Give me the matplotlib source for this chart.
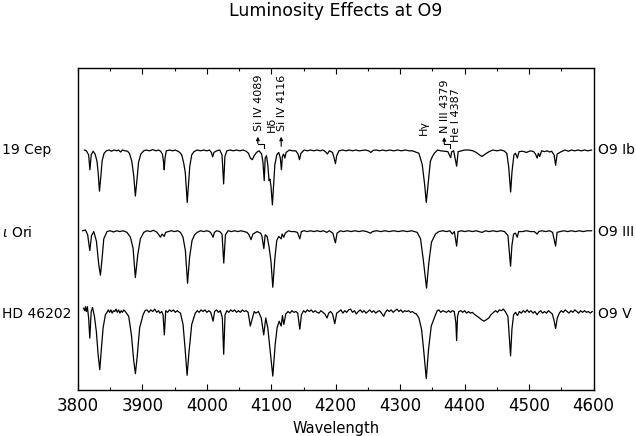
import matplotlib
matplotlib.use("Agg")
import matplotlib.pyplot as plt
from matplotlib.ticker import MultipleLocator

# spectra: (wavelength, normalised flux) vertices
cep19 = [
    (3810, 1.00), (3813, 0.99), (3816.5, 0.94), (3818.5, 0.755), (3820.5, 0.94), (3823.5, 0.985),
    (3826.5, 0.95), (3829.5, 0.86), (3831.5, 0.70), (3833.3, 0.49), (3835.3, 0.66), (3837.5, 0.87),
    (3840.5, 0.96), (3844, 0.99), (3848, 1.00), (3852, 0.985), (3856, 1.00), (3860, 0.99), (3863, 1.00),
    (3866, 0.975), (3869, 1.00), (3873, 0.99), (3877, 0.985), (3880, 0.955), (3883.5, 0.86),
    (3886.5, 0.68), (3889, 0.43), (3891.5, 0.63), (3894, 0.85), (3897.5, 0.95), (3902, 0.99),
    (3906, 1.00), (3911, 0.99), (3916, 1.005), (3921, 0.99), (3925, 1.00), (3928, 0.985), (3931, 0.95),
    (3932.8, 0.85), (3933.8, 0.755), (3935, 0.90), (3937, 0.99), (3942, 1.00), (3947, 0.99),
    (3951, 1.00), (3955, 0.985), (3958, 0.97), (3961, 0.94), (3964, 0.84), (3966.5, 0.72),
    (3968.3, 0.50), (3969.5, 0.35), (3971, 0.52), (3973.5, 0.80), (3976.5, 0.94), (3980, 0.98),
    (3985, 1.00), (3990, 0.99), (3995, 1.00), (4000, 0.99), (4004, 1.00), (4007, 0.97), (4009, 0.915),
    (4011, 0.97), (4015, 0.99), (4020, 1.00), (4023.5, 0.94), (4026, 0.58), (4028, 0.92), (4031, 0.99),
    (4036, 1.00), (4041, 0.99), (4046, 1.00), (4051, 0.99), (4056, 1.00), (4061, 0.985), (4064.5, 0.96),
    (4067.5, 0.90), (4070.5, 0.88), (4073.5, 0.93), (4077, 0.97), (4081, 0.99), (4085, 0.95),
    (4087, 0.85), (4089, 0.62), (4090.5, 0.90), (4092.5, 0.93), (4094.5, 0.82), (4096.5, 0.62),
    (4098, 0.64), (4099.5, 0.55), (4101.7, 0.32), (4103.5, 0.55), (4105.5, 0.82), (4108.5, 0.94),
    (4111.5, 0.97), (4114, 0.90), (4115.7, 0.755), (4117.2, 0.92), (4119, 0.95), (4121, 0.90),
    (4123, 0.97), (4128, 1.00), (4133, 0.99), (4138, 0.99), (4141.5, 0.95), (4143.7, 0.88),
    (4146, 0.96), (4151, 1.00), (4156, 0.99), (4161, 1.00), (4166, 0.99), (4171, 1.00), (4176, 0.99),
    (4180, 1.00), (4184, 0.98), (4187, 0.95), (4190, 0.99), (4195, 0.97), (4197.5, 0.90),
    (4199.5, 0.83), (4201.5, 0.93), (4205, 0.99), (4211, 1.00), (4216, 0.99), (4221, 1.00),
    (4226, 0.99), (4231, 1.00), (4236, 0.99), (4241, 0.995), (4246, 1.00), (4251, 0.99),
    (4254.5, 0.97), (4258, 0.995), (4263, 1.00), (4268, 0.99), (4273, 1.00), (4278, 0.99),
    (4284, 1.00), (4290, 0.99), (4296, 1.00), (4302, 0.99), (4308, 1.00), (4314, 0.99), (4319, 0.99),
    (4324, 0.975), (4329, 0.96), (4334.2, 0.82), (4338, 0.57), (4340.5, 0.35), (4343.2, 0.57),
    (4346.8, 0.86), (4350, 0.92), (4353, 0.96), (4358, 1.00), (4363, 0.99), (4368, 0.985),
    (4374, 0.98), (4378.3, 0.906), (4380, 0.98), (4383, 0.99), (4387.6, 0.80), (4390, 0.98),
    (4395, 0.99), (4400, 1.00), (4407, 1.00), (4413, 0.99), (4418, 0.97), (4423, 0.94), (4427, 0.92),
    (4432, 0.95), (4438, 0.98), (4444, 1.00), (4450, 0.99), (4456, 1.00), (4461, 0.99),
    (4465.5, 0.96), (4468.5, 0.78), (4471.4, 0.48), (4473.5, 0.73), (4476.5, 0.94), (4479, 0.96),
    (4481.8, 0.90), (4484.5, 0.98), (4490, 0.985), (4496, 0.97), (4502, 0.99), (4507, 0.98),
    (4510, 0.95), (4512.6, 0.90), (4514.5, 0.96), (4516.6, 0.92), (4519.5, 0.99), (4524, 0.98),
    (4528, 0.99), (4532, 0.975), (4535, 0.985), (4538.8, 0.94), (4541.2, 0.81), (4543.6, 0.95),
    (4550, 0.98), (4556, 1.00), (4561, 0.985), (4566, 1.00), (4571, 0.99), (4576, 1.00), (4581, 0.99),
    (4586, 1.00), (4591, 0.99), (4597, 1.00),
]

iota_ori = [
    (3807, 1.00), (3811.5, 1.01), (3815, 0.95), (3818.3, 0.755), (3821, 0.94), (3824.5, 0.99),
    (3828.6, 0.87), (3832.2, 0.58), (3834.8, 0.45), (3837.4, 0.66), (3840, 0.90), (3845, 0.99),
    (3850, 1.00), (3855, 0.985), (3860, 1.00), (3865, 0.99), (3870, 1.00), (3876, 0.98),
    (3881.4, 0.92), (3885.5, 0.78), (3889, 0.42), (3892.7, 0.70), (3896.8, 0.90), (3902, 0.98),
    (3907, 1.00), (3912, 0.99), (3917, 1.005), (3922, 0.985), (3925.5, 0.95), (3928, 0.92),
    (3930.5, 0.96), (3933.8, 0.93), (3936, 0.98), (3940, 0.99), (3945, 1.00), (3950, 0.99),
    (3955, 1.00), (3959, 0.98), (3963, 0.92), (3966.7, 0.75), (3970, 0.35), (3973.3, 0.68),
    (3977, 0.88), (3981, 0.95), (3985, 0.98), (3990, 1.00), (3995, 0.99), (4000, 1.00), (4004, 0.99),
    (4006.5, 0.97), (4009.6, 0.92), (4011.7, 0.98), (4015, 1.00), (4020, 0.99), (4023.5, 0.96),
    (4026.2, 0.60), (4028.8, 0.95), (4033, 1.00), (4038, 0.99), (4043, 1.00), (4048, 0.99),
    (4053, 1.00), (4058, 0.99), (4062.4, 0.98), (4065.4, 0.95), (4068.5, 0.89), (4071.5, 0.96),
    (4078, 0.99), (4083.5, 0.97), (4085.5, 0.93), (4088.4, 0.78), (4090.5, 0.95), (4093.5, 0.93),
    (4096.5, 0.80), (4099.5, 0.62), (4102.3, 0.30), (4105.5, 0.66), (4108.5, 0.88), (4111.5, 0.93),
    (4115.3, 0.90), (4116.8, 0.96), (4119.4, 0.92), (4121.6, 0.97), (4126.5, 1.00), (4131, 0.99),
    (4136, 0.99), (4140.5, 0.98), (4144.2, 0.90), (4146.7, 0.99), (4151, 1.00), (4156, 0.99),
    (4161, 1.00), (4166, 0.99), (4171, 1.00), (4176, 0.99), (4181, 1.00), (4186, 0.98), (4190, 1.00),
    (4195.5, 0.97), (4199.5, 0.85), (4202, 0.97), (4207, 1.00), (4212, 0.99), (4218, 1.00),
    (4224, 0.99), (4230, 1.00), (4236, 0.99), (4242, 1.00), (4248, 0.99), (4254, 0.97), (4257, 0.99),
    (4263, 1.00), (4270, 0.99), (4276, 1.00), (4283, 0.99), (4290, 1.00), (4297, 0.99), (4304, 1.00),
    (4311, 0.99), (4318, 1.00), (4326.4, 0.98), (4331.6, 0.90), (4335.7, 0.65), (4340.9, 0.29),
    (4344.5, 0.61), (4348.6, 0.86), (4354.8, 0.96), (4360, 0.99), (4366, 1.00), (4372, 0.99),
    (4377, 1.00), (4380.8, 0.96), (4384, 0.99), (4387.6, 0.81), (4389.8, 0.99), (4395, 1.00),
    (4400, 0.99), (4406, 1.00), (4412, 0.99), (4418, 1.00), (4422, 0.99), (4427.3, 0.98),
    (4432, 1.00), (4438, 0.99), (4444, 1.00), (4450, 0.99), (4456, 1.00), (4462, 0.99),
    (4467.2, 0.94), (4471.3, 0.56), (4473.4, 0.82), (4476, 0.96), (4479, 0.97), (4481.6, 0.92),
    (4484, 0.99), (4490, 0.99), (4496, 1.00), (4502, 0.99), (4508, 0.99), (4512.6, 0.96),
    (4515, 0.99), (4520, 1.00), (4526, 0.99), (4532, 1.00), (4536.5, 0.98), (4541.2, 0.81),
    (4543.5, 0.98), (4548, 0.99), (4554, 1.00), (4560, 0.99), (4566, 1.00), (4572, 0.99),
    (4578, 1.00), (4584, 0.99), (4590, 1.00), (4597, 1.00),
]

hd46202 = [
    (3808.5, 1.04), (3810.5, 1.01), (3811.5, 1.06), (3813, 1.00), (3814.5, 1.06), (3816.5, 0.92),
    (3818.3, 0.67), (3820.5, 1.00), (3822.5, 1.05), (3825.5, 0.94), (3828.5, 0.75), (3831.2, 0.47),
    (3833.8, 0.28), (3836.4, 0.55), (3839, 0.80), (3842.5, 0.96), (3845, 0.99), (3847, 1.02),
    (3849, 0.99), (3851, 1.02), (3853, 0.98), (3855, 1.01), (3857, 1.00), (3859, 1.03), (3861, 0.99),
    (3863, 1.02), (3865, 0.98), (3867, 1.01), (3869, 0.99), (3871, 1.02), (3873.5, 1.00), (3876, 0.97),
    (3878.7, 0.94), (3882.9, 0.71), (3886.5, 0.39), (3889.1, 0.23), (3891.7, 0.43), (3895.7, 0.80),
    (3901, 0.96), (3904, 1.01), (3907.2, 1.02), (3910, 0.99), (3913, 1.02), (3916, 1.00), (3919, 1.03),
    (3922, 0.99), (3925, 1.01), (3927, 0.98), (3930, 1.00), (3932, 0.96), (3934, 0.71), (3936.1, 1.01),
    (3939, 0.99), (3942, 1.02), (3945, 1.00), (3948, 1.02), (3951, 0.99), (3954, 1.01), (3957, 0.99),
    (3959, 0.98), (3963, 0.84), (3966.1, 0.55), (3969.3, 0.21), (3972.4, 0.51), (3976.5, 0.84),
    (3982, 0.98), (3985, 1.01), (3988, 0.99), (3991, 1.02), (3994, 1.00), (3997, 1.02), (4000, 0.99),
    (4003, 1.01), (4006, 0.99), (4009.6, 0.88), (4012, 1.00), (4015, 1.02), (4018, 0.99), (4021, 1.01),
    (4024, 0.92), (4026.1, 0.47), (4028.2, 0.96), (4031, 1.01), (4034, 0.99), (4037, 1.02),
    (4040, 1.00), (4043, 1.02), (4046, 0.99), (4049, 1.01), (4052, 0.99), (4055, 1.02), (4058, 1.00),
    (4061, 1.01), (4064, 0.99), (4067.4, 0.82), (4070, 0.90), (4073.5, 1.00), (4076, 0.98),
    (4080, 1.00), (4084.4, 0.92), (4088.2, 0.71), (4091.4, 0.92), (4094.5, 0.80), (4097.7, 0.55),
    (4102.3, 0.20), (4106, 0.59), (4109, 0.80), (4112.2, 0.88), (4115.3, 0.82), (4117.3, 0.95),
    (4119.4, 0.84), (4122.5, 0.97), (4126, 1.00), (4129, 0.98), (4132, 1.01), (4135, 0.99),
    (4138, 1.00), (4141, 0.98), (4144.2, 0.78), (4146.8, 0.96), (4150, 1.01), (4153, 0.99),
    (4156, 1.02), (4159, 1.00), (4162, 1.02), (4165, 0.99), (4168, 1.01), (4171, 0.99), (4174, 0.98),
    (4177, 1.01), (4180, 0.99), (4183, 0.97), (4186.5, 0.92), (4189, 0.98), (4192, 1.00),
    (4195, 0.97), (4198.5, 0.85), (4201.5, 0.98), (4205, 1.00), (4208, 1.02), (4211, 0.98),
    (4214, 1.01), (4217, 0.99), (4220, 1.02), (4223, 1.03), (4226, 0.99), (4229, 1.01), (4232, 0.97),
    (4235, 1.00), (4238, 1.02), (4241, 0.99), (4244, 1.01), (4247, 0.98), (4250, 1.00), (4253, 1.02),
    (4256, 0.99), (4259, 1.01), (4262, 0.98), (4265, 1.00), (4268, 1.01), (4271, 0.98),
    (4274.5, 0.94), (4277, 0.99), (4280, 1.02), (4283, 1.00), (4286, 1.02), (4289, 0.99),
    (4292, 1.01), (4295, 1.03), (4298, 1.00), (4301, 1.02), (4304, 0.99), (4307, 1.01), (4310, 1.00),
    (4313, 1.01), (4316, 0.99), (4319, 1.00), (4322, 0.98), (4325, 0.97), (4329, 0.92),
    (4333.2, 0.78), (4336.8, 0.49), (4340.5, 0.17), (4344, 0.53), (4348.2, 0.82), (4354.8, 0.96),
    (4357.5, 1.01), (4360, 1.02), (4363, 0.99), (4366, 1.01), (4369, 1.00), (4372, 0.99),
    (4375, 1.01), (4378, 0.99), (4381, 1.01), (4384, 1.00), (4386.4, 0.86), (4387.6, 0.64),
    (4389, 0.94), (4391, 1.00), (4394, 1.01), (4397, 0.99), (4400, 1.01), (4403, 0.98), (4406, 1.00),
    (4409, 0.98), (4412, 0.99), (4416, 0.96), (4419.5, 0.94), (4423, 0.92), (4426, 0.90),
    (4430, 0.88), (4434, 0.90), (4437.5, 0.92), (4441, 0.96), (4445, 0.99), (4448, 1.01),
    (4451, 0.99), (4454, 1.02), (4457, 1.01), (4460, 1.03), (4463, 1.00), (4467.2, 0.94),
    (4471.3, 0.45), (4473.4, 0.78), (4476, 0.96), (4479, 0.99), (4482, 0.95), (4485, 1.00),
    (4488, 0.98), (4491, 1.01), (4494, 0.99), (4497, 1.02), (4500, 0.99), (4503, 1.01), (4506, 0.98),
    (4509, 1.00), (4512.5, 0.96), (4515, 0.99), (4518, 1.01), (4521, 0.98), (4524, 1.00),
    (4527, 0.98), (4530, 1.01), (4533, 0.99), (4536, 0.97), (4538.5, 0.90), (4541.2, 0.79),
    (4543.8, 0.92), (4547, 0.98), (4550, 1.01), (4553, 0.99), (4556, 1.02), (4559, 1.00),
    (4562, 0.98), (4565, 1.01), (4568, 0.99), (4571, 1.02), (4574, 1.00), (4577, 0.98), (4580, 1.01),
    (4583, 0.99), (4586, 1.01), (4589, 0.99), (4592, 1.00), (4595, 0.98), (4598, 1.00),
]

spectra = [cep19, iota_ori, hd46202]
offsets = [2.0, 1.0, 0.0]
star_names = ["19 Cep", r"$\iota$ Ori", "HD 46202"]
sp_types = ["O9 Ib", "O9 III", "O9 V"]

# line identifications above the top spectrum
line_labels = ["Si IV 4089", "H\u03b4", "Si IV 4116", "H\u03b3", "N III 4379", "He I 4387"]
label_wave = [4080.4, 4100.2, 4116.4, 4337.0, 4370.0, 4387.3]
label_base = [3.235, 3.223, 3.235, 3.186, 3.211, 3.099]

fig = plt.figure(figsize=(6.36, 4.36), dpi=100)
ax = fig.add_axes([78 / 636, 1 - 390 / 436, 515.5 / 636, 321.7 / 436])

for spec, off in zip(spectra, offsets):
    w = [p[0] for p in spec]
    f = [p[1] + off for p in spec]
    ax.plot(w, f, color="black", lw=0.9)

ax.set_xlim(3800, 4600)
ax.set_ylim(0.028, 4.012)
ax.xaxis.set_major_locator(MultipleLocator(100))
ax.xaxis.set_minor_locator(MultipleLocator(50))
ax.tick_params(axis="x", which="both", direction="in", top=True, labelsize=12, pad=5, width=0.8)
ax.tick_params(axis="x", which="major", length=4.5)
ax.tick_params(axis="x", which="minor", length=2.5)
ax.set_yticks([])
for s in ax.spines.values():
    s.set_linewidth(1.0)
ax.set_xlabel("Wavelength", fontsize=10.5, labelpad=4)

for txt, wl, yb in zip(line_labels, label_wave, label_base):
    ax.text(wl, yb, txt, rotation=90, ha="center", va="bottom", fontsize=8)

# little hooked arrows pointing at the Si IV 4089 and N III lines
hooks = [
    [(4088.9, 3.031), (4088.9, 3.080), (4079.1, 3.080)],
    [(4376.9, 3.025), (4376.9, 3.074), (4368.4, 3.074)],
]
for h in hooks:
    ax.plot([p[0] for p in h], [p[1] for p in h], color="black", lw=0.8)
arrows = [((4079.1, 3.080), (4079.1, 3.165)),
          ((4115.3, 3.045), (4115.3, 3.165)),
          ((4368.4, 3.074), (4368.4, 3.160))]
for start, tip in arrows:
    ax.annotate("", xy=tip, xytext=start,
                arrowprops=dict(arrowstyle="-|>", lw=0.8, color="black",
                                mutation_scale=5, shrinkA=0, shrinkB=0))

ypix = [150, 232, 314]
for name, sp, yp in zip(star_names, sp_types, ypix):
    fig.text(2 / 636, 1 - yp / 436, name, ha="left", va="center", fontsize=10)
    fig.text(598 / 636, 1 - yp / 436, sp, ha="left", va="center", fontsize=10)

fig.text(336 / 636, 1 - 11 / 436, "Luminosity Effects at O9", ha="center", va="center", fontsize=12.5)

fig.savefig("out.png", dpi=100)
